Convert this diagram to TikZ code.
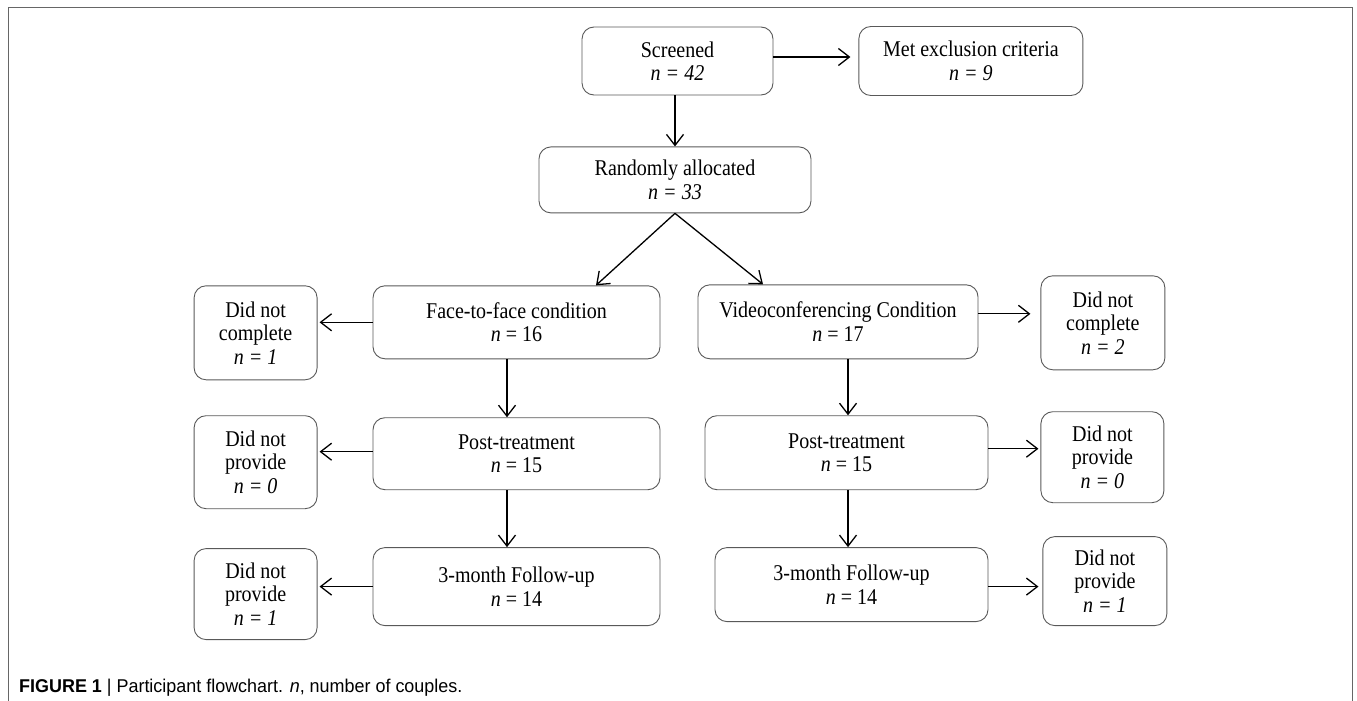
\documentclass[tikz,border=0pt]{standalone}
\usepackage{fontspec}
\setmainfont[FakeStretch=0.89]{Liberation Serif}
\newfontfamily\capfont[FakeStretch=0.97]{Liberation Sans}
\usepackage{tikz}
\usetikzlibrary{positioning}
\usetikzlibrary{arrows.meta}

\tikzset{
  flowbox/.style={rectangle, draw=black!65, line width=0.9pt, rounded corners=12pt,
    align=center, inner sep=0pt, font=\fontsize{22.5}{23.5}\selectfont},
  flowarrow/.style={-{Straight Barb[length=11pt,width=17pt]}, line width=1.3pt},
}

\begin{document}
\begin{tikzpicture}

    \useasboundingbox (0,0) rectangle (1357pt,-701pt);
    % frame
    \draw[black!60, line width=1.4pt] (8.5pt,-701pt) -- (8.5pt,-7.5pt) -- (1352.5pt,-7.5pt) -- (1352.5pt,-701pt);

    % Define nodes
    \node[flowbox, minimum width=191pt, minimum height=68pt] (screened) at (677.5pt,-61pt) {Screened\\\textit{n = 42}};
    \node[flowbox, minimum width=224pt, minimum height=69pt, right=85pt of screened] (excluded) {Met exclusion criteria\\\textit{n = 9}};
    \node[flowbox, minimum width=272pt, minimum height=66pt, below=51pt of screened, xshift=-2.5pt] (allocated) {Randomly allocated\\\textit{n = 33}};
    \node[flowbox, minimum width=287pt, minimum height=73pt, below=72pt of allocated, xshift=-158.5pt] (facetoface) {Face-to-face condition\\\textit{n} = 16};
    \node[flowbox, minimum width=280pt, minimum height=74pt, below=71pt of allocated, xshift=163pt] (video) {Videoconferencing Condition\\\textit{n} = 17};
    \node[flowbox, minimum width=123pt, minimum height=94pt, left=55pt of facetoface, yshift=-10.5pt] (ftfdrop) {Did not\\complete\\\textit{n = 1}};
    \node[flowbox, minimum width=124pt, minimum height=94pt, right=62pt of video, yshift=-1pt] (vcdrop) {Did not\\complete\\\textit{n = 2}};
    \node[flowbox, minimum width=287pt, minimum height=72pt, below=58pt of facetoface] (ftfpost) {Post-treatment\\\textit{n} = 15};
    \node[flowbox, minimum width=283pt, minimum height=74pt, below=56pt of video, xshift=8.5pt] (vcpost) {Post-treatment\\\textit{n} = 15};
    \node[flowbox, minimum width=123pt, minimum height=93pt, left=55pt of ftfpost, yshift=-8.5pt] (ftfpostmiss) {Did not\\provide\\\textit{n = 0}};
    \node[flowbox, minimum width=123pt, minimum height=91pt, right=52pt of vcpost, yshift=-4.5pt] (vcpostmiss) {Did not\\provide\\\textit{n = 0}};
    \node[flowbox, minimum width=287pt, minimum height=78pt, below=57pt of ftfpost] (ftffollow) {3-month Follow-up\\\textit{n} = 14};
    \node[flowbox, minimum width=273pt, minimum height=74pt, below=57pt of vcpost, xshift=5pt] (vcfollow) {3-month Follow-up\\\textit{n} = 14};
    \node[flowbox, minimum width=123pt, minimum height=91pt, left=55pt of ftffollow, yshift=-7.5pt] (ftffollowmiss) {Did not\\provide\\\textit{n = 1}};
    \node[flowbox, minimum width=124pt, minimum height=89pt, right=54pt of vcfollow, yshift=3.5pt] (vcfollowmiss) {Did not\\provide\\\textit{n = 1}};
    \node[anchor=base west, inner sep=0pt, font=\capfont\fontsize{18.5}{20}\selectfont] (caption) at (19pt,-692pt) {\textbf{FIGURE 1} | Participant flowchart. \textit{n}, number of couples.};

    % Connect the nodes
    \draw[flowarrow, shorten >=8pt] ([yshift=4pt]screened.east) -- ([yshift=4pt]screened.east -| excluded.west);
    \draw[flowarrow] (screened.south -| allocated.north) -- (allocated.north);
    \draw[flowarrow] (allocated.south) -- ([xshift=79.5pt]facetoface.north);
    \draw[flowarrow] (allocated.south) -- ([xshift=-75pt]video.north);
    \draw[flowarrow, shorten >=2pt] (facetoface.west) -- (facetoface.west -| ftfdrop.east);
    \draw[flowarrow, shorten >=10pt] ([yshift=8pt]video.east) -- ([yshift=8pt]video.east -| vcdrop.west);
    \draw[flowarrow, shorten >=2pt] ([yshift=2pt]ftfpost.west) -- ([yshift=2pt]ftfpost.west -| ftfpostmiss.east);
    \draw[flowarrow, shorten >=2pt] ([yshift=4pt]vcpost.east) -- ([yshift=4pt]vcpost.east -| vcpostmiss.west);
    \draw[flowarrow, shorten >=2pt] (ftffollow.west) -- (ftffollow.west -| ftffollowmiss.east);
    \draw[flowarrow, shorten >=4pt] ([yshift=-2pt]vcfollow.east) -- ([yshift=-2pt]vcfollow.east -| vcfollowmiss.west);
    \draw[flowarrow] ([xshift=-9.5pt]facetoface.south) -- ([xshift=-9.5pt]facetoface.south |- ftfpost.north);
    \draw[flowarrow] ([xshift=-9.5pt]ftfpost.south) -- ([xshift=-9.5pt]ftfpost.south |- ftffollow.north);
    \draw[flowarrow] ([xshift=10pt]video.south) -- ([xshift=10pt]video.south |- vcpost.north);
    \draw[flowarrow] ([xshift=1.5pt]vcpost.south) -- ([xshift=1.5pt]vcpost.south |- vcfollow.north);

\end{tikzpicture}
\end{document}
